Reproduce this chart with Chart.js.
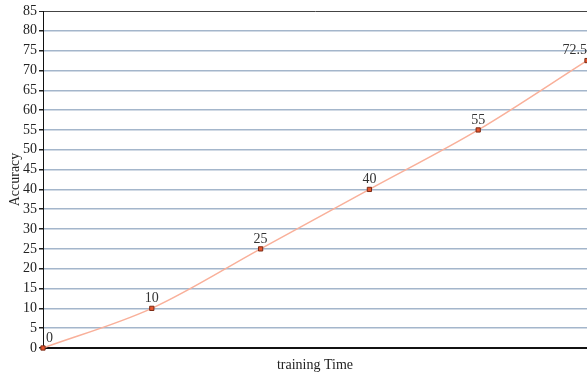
<!DOCTYPE html>
<html>
<head>
<meta charset="utf-8">
<script src="https://cdn.jsdelivr.net/npm/chart.js@4/dist/chart.umd.min.js"></script>
<style>
  html, body { margin: 0; padding: 0; background: #fff; }
  #wrap { width: 587px; height: 374px; }
</style>
</head>
<body>
<div id="wrap"><canvas id="c" width="587" height="374"></canvas></div>
<script>
// Training checkpoints and accuracy reached at each one
const steps = ['t0', 't1', 't2', 't3', 't4', 't5'];
const accuracy = [0, 10, 25, 40, 55, 72.5];
const yTicks = [0, 5, 10, 15, 20, 25, 30, 35, 40, 45, 50, 55, 60, 65, 70, 75, 80, 85];

const serif = '"Liberation Serif", "Times New Roman", serif';

// Writes each point's value just above its marker, kept inside the plot area
const valueLabels = {
  id: 'valueLabels',
  afterDatasetsDraw(chart) {
    const ctx = chart.ctx;
    const area = chart.chartArea;
    const meta = chart.getDatasetMeta(0);
    ctx.save();
    ctx.font = '14px ' + serif;
    ctx.fillStyle = '#333';
    ctx.textBaseline = 'bottom';
    ctx.textAlign = 'left';
    meta.data.forEach((pt, i) => {
      const txt = String(accuracy[i]);
      const w = ctx.measureText(txt).width;
      let x = pt.x - w / 2;
      if (x < area.left + 3) x = area.left + 3;
      if (x + w > chart.width) x = chart.width - w;
      ctx.fillText(txt, x, pt.y - 3);
    });
    ctx.restore();
  }
};

new Chart(document.getElementById('c'), {
  type: 'line',
  data: {
    labels: steps,
    datasets: [{
      data: accuracy,
      borderColor: '#f9b09a',
      borderWidth: 1.5,
      cubicInterpolationMode: 'monotone',
      pointStyle: 'rect',
      pointRadius: 3,
      pointBackgroundColor: '#e8562e',
      pointBorderColor: '#7a2a14',
      pointBorderWidth: 1,
      clip: false
    }]
  },
  options: {
    responsive: false,
    animation: false,
    layout: { autoPadding: false, padding: { top: 11, right: 0, left: 0, bottom: 0 } },
    plugins: { legend: { display: false }, tooltip: { enabled: false } },
    scales: {
      x: {
        offset: false,
        ticks: { display: false },
        grid: { display: false, drawTicks: false },
        border: { color: '#111', width: 2 },
        title: {
          display: true,
          text: 'training Time',
          color: '#222',
          font: { family: serif, size: 14 },
          padding: { top: 4, bottom: 0 }
        },
        afterFit(scale) {
          scale.height = 26;
          scale.paddingLeft = 0;
          scale.paddingRight = 0;
        }
      },
      y: {
        min: 0,
        max: 85,
        afterBuildTicks(scale) { scale.ticks = yTicks.map(v => ({ value: v })); },
        ticks: {
          color: '#222',
          font: { family: serif, size: 14 },
          padding: 2
        },
        grid: {
          color: ctx => (ctx.tick && ctx.tick.value === 85) ? '#444' : '#a4b6cb',
          lineWidth: ctx => (ctx.tick && ctx.tick.value === 85) ? 1 : 1.5,
          tickColor: '#222',
          tickLength: 4
        },
        border: { color: '#111', width: 1 },
        title: {
          display: true,
          text: 'Accuracy',
          color: '#222',
          font: { family: serif, size: 14 },
          padding: { top: 7, bottom: 2 }
        },
        afterFit(scale) {
          scale.width = 43;
          scale.paddingTop = 0;
          scale.paddingBottom = 0;
        }
      }
    }
  },
  plugins: [valueLabels]
});
</script>
</body>
</html>
